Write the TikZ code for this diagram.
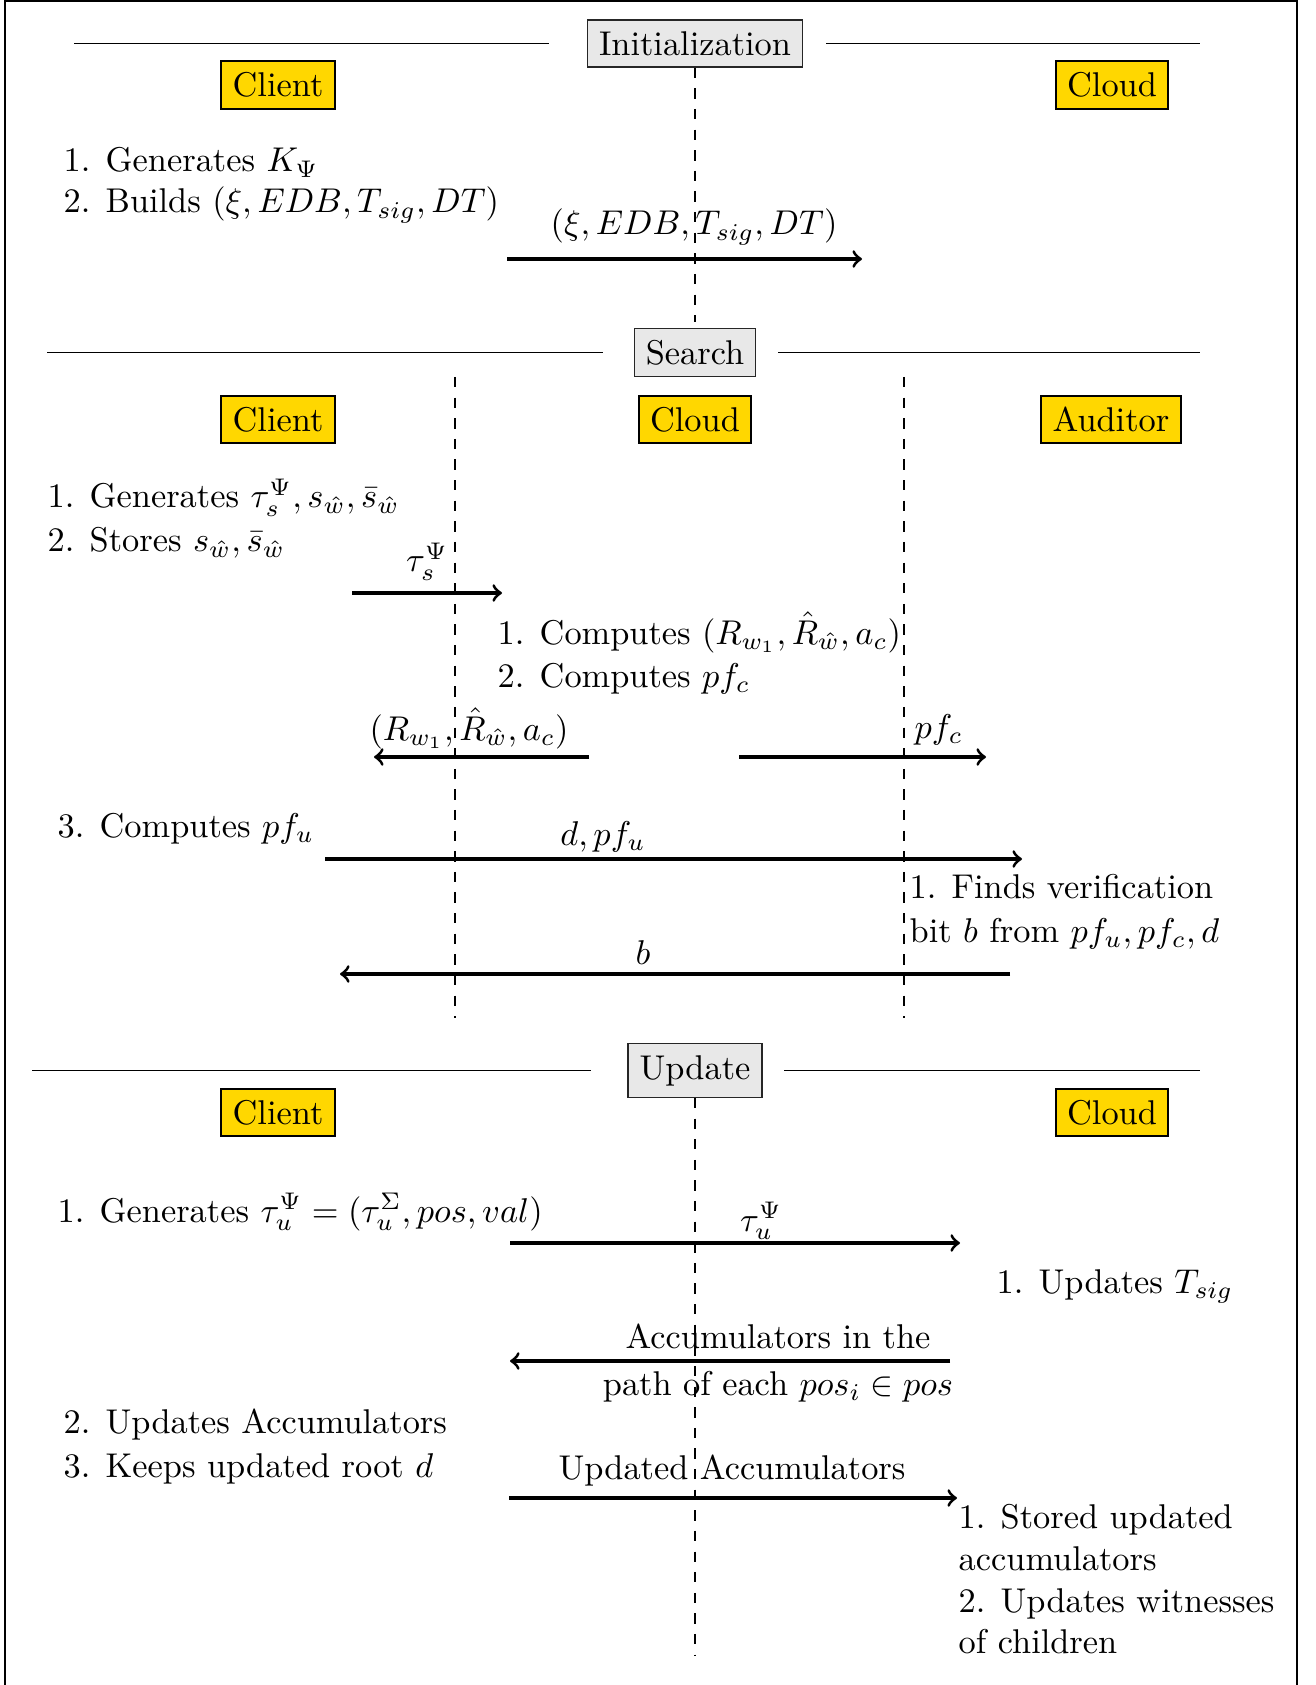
\documentclass[tikz,border=0pt]{standalone}
\definecolor{actorgold}{RGB}{255,215,0}
\definecolor{phasegray}{RGB}{232,232,232}
\tikzset{
  actor/.style={draw=black, line width=0.6pt, fill=actorgold, inner sep=.3333em},
  phase/.style={draw=black!85, fill=phasegray, line width=0.4pt, inner sep=.3333em},
  sepline/.style={line width=0.45pt},
  lifeline/.style={dashed, line width=0.4pt},
  msg/.style={->, line width=0.9pt},
  txt/.style={anchor=base west, inner sep=0pt},
  lbl/.style={anchor=base, inner sep=0pt},
}
\begin{document}
\begin{tikzpicture}[x=0.291pt, y=-0.291pt]
\useasboundingbox (0,0) rectangle (1315,1685);
\draw[line width=0.4pt] (5,1690) -- (5,1) -- (1297,1) -- (1297,1690);

% ---------------- Initialization ----------------
\node[phase] (init) at (695,43.5) {Initialization};
\coordinate (iL1) at (74,43.5); \coordinate (iL2) at (549,43.5);
\coordinate (iR1) at (826,43.5); \coordinate (iR2) at (1200,43.5);
\draw[sepline] (iL1) -- (iL2);
\draw[sepline] (iR1) -- (iR2);
\node[actor] (iclient) at (278,85) {Client};
\node[actor] (icloud) at (1112,85) {Cloud};
\coordinate (iend) at (695,322);
\draw[lifeline] (init.south) -- (iend);

\node[txt] (it1) at (63,172) {1. Generates $K_\Psi$};
\node[txt] (it2) at (63,213) {2. Builds $(\xi, EDB, T_{sig}, DT)$};
\coordinate (ia1) at (507,259); \coordinate (ia2) at (862,259);
\draw[msg] (ia1) -- (ia2);
\node[lbl] (ial) at (694,235) {$(\xi, EDB, T_{sig}, DT)$};

% ---------------- Search ----------------
\node[phase] (search) at (695,352.5) {Search};
\coordinate (sL1) at (47,352.5); \coordinate (sL2) at (603,352.5);
\coordinate (sR1) at (778,352.5); \coordinate (sR2) at (1200,352.5);
\draw[sepline] (sL1) -- (sL2);
\draw[sepline] (sR1) -- (sR2);
\coordinate (d1t) at (455,377); \coordinate (d1b) at (455,1018);
\coordinate (d2t) at (904,377); \coordinate (d2b) at (904,1018);
\draw[lifeline] (d1t) -- (d1b);
\draw[lifeline] (d2t) -- (d2b);
\node[actor] (sclient) at (278,419.5) {Client};
\node[actor] (scloud) at (695,419.5) {Cloud};
\node[actor] (sauditor) at (1111,419.5) {Auditor};

\node[txt] (st1) at (47,508) {1. Generates $\tau_s^\Psi, s_{\hat{w}}, \bar{s}_{\hat{w}}$};
\node[txt] (st2) at (47,552) {2. Stores $s_{\hat{w}}, \bar{s}_{\hat{w}}$};
\coordinate (sa1) at (352,593); \coordinate (sa2) at (502,593);
\draw[msg] (sa1) -- (sa2);
\node[lbl] (sal) at (427,572) {$\tau_s^\Psi$};

\node[txt] (sc1) at (497,644) {1. Computes $(R_{w_1}, \hat{R}_{\hat{w}}, a_c)$};
\node[txt] (sc2) at (497,687) {2. Computes $pf_c$};

\coordinate (sb1) at (589,757); \coordinate (sb2) at (374,757);
\draw[msg] (sb1) -- (sb2);
\node[lbl] (sbl) at (469,740) {$(R_{w_1}, \hat{R}_{\hat{w}}, a_c)$};
\coordinate (sc1a) at (739,757); \coordinate (sc2a) at (986,757);
\draw[msg] (sc1a) -- (sc2a);
\node[txt] (scl) at (914,738) {$pf_c$};

\node[txt] (st3) at (57,837) {3. Computes $pf_u$};
\coordinate (sd1) at (325,859); \coordinate (sd2) at (1022,859);
\draw[msg] (sd1) -- (sd2);
\node[lbl] (sdl) at (603,845) {$d, pf_u$};

\node[txt] (sf1) at (909,898) {1. Finds verification};
\node[txt] (sf2) at (909,942) {bit $b$ from $pf_u, pf_c, d$};
\coordinate (se1) at (1010,974); \coordinate (se2) at (340,974);
\draw[msg] (se1) -- (se2);
\node[lbl] (sel) at (643,964) {$b$};

% ---------------- Update ----------------
\node[phase] (update) at (695,1070.5) {Update};
\coordinate (uL1) at (32,1070.5); \coordinate (uL2) at (591,1070.5);
\coordinate (uR1) at (784,1070.5); \coordinate (uR2) at (1200,1070.5);
\draw[sepline] (uL1) -- (uL2);
\draw[sepline] (uR1) -- (uR2);
\coordinate (uend) at (695,1655);
\draw[lifeline] (update.south) -- (uend);
\node[actor] (uclient) at (278,1112.5) {Client};
\node[actor] (ucloud) at (1112,1112.5) {Cloud};

\node[txt] (ut1) at (57,1222) {1. Generates $\tau_u^\Psi = (\tau_u^\Sigma, pos, val)$};
\coordinate (ua1) at (510,1243); \coordinate (ua2) at (960,1243);
\draw[msg] (ua1) -- (ua2);
\node[lbl] (ual) at (761,1231) {$\tau_u^\Psi$};
\node[txt] (uc1) at (996,1293) {1. Updates $T_{sig}$};

\coordinate (ub1) at (950,1361); \coordinate (ub2) at (510,1361);
\draw[msg] (ub1) -- (ub2);
\node[lbl] (ubl1) at (778,1348) {Accumulators in the};
\node[lbl] (ubl2) at (778,1395) {path of each $pos_i \in pos$};

\node[txt] (ut2) at (63,1433) {2. Updates Accumulators};
\node[txt] (ut3) at (63,1477) {3. Keeps updated root $d$};
\coordinate (uc1a) at (509,1498); \coordinate (uc2a) at (957,1498);
\draw[msg] (uc1a) -- (uc2a);
\node[lbl] (ucl) at (732,1479) {Updated Accumulators};

\node[txt] (ur1) at (958,1528) {1. Stored updated};
\node[txt] (ur2) at (958,1570) {accumulators};
\node[txt] (ur3) at (958,1612) {2. Updates witnesses};
\node[txt] (ur4) at (958,1653) {of children};
\end{tikzpicture}
\end{document}
